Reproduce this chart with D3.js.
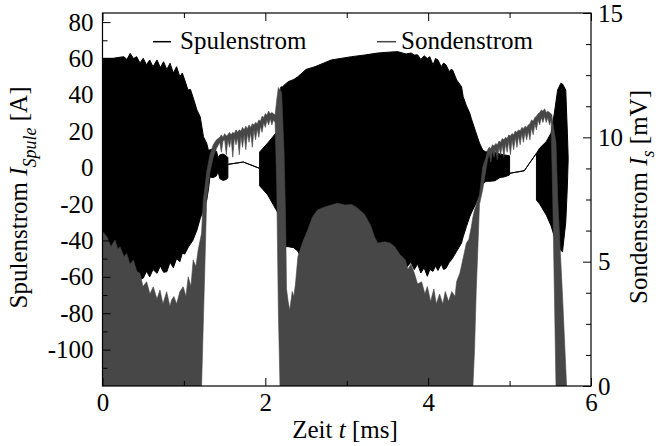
<!DOCTYPE html>
<html><head><meta charset="utf-8">
<script src="https://cdn.jsdelivr.net/npm/d3@7"></script>
<style>body{margin:0;background:#fff}svg{display:block}</style>
</head><body>
<svg id="c" width="658" height="446"></svg>
<script>
// Spulenstrom (coil current, A): envelope of the fast oscillation
const spulT  = [0.00,0.13,0.26,0.30,0.34,0.38,0.42,0.46,0.50,0.54,0.58,0.62,0.67,0.71,0.75,0.79,0.83,0.87,0.91,0.95,0.98,1.01,1.05,1.08,1.11,1.16,1.20,1.24,1.28,1.30,1.32,1.36,1.40,1.42,1.44,1.48,1.52,1.54,1.54,1.73,1.93,1.93,2.03,2.13,2.17,2.19,2.21,2.28,2.35,2.40,2.50,2.61,2.81,3.06,3.22,3.38,3.43,3.59,3.63,3.73,3.79,3.83,3.87,3.91,3.95,3.99,4.02,4.06,4.09,4.12,4.16,4.19,4.22,4.26,4.28,4.30,4.35,4.41,4.43,4.47,4.51,4.53,4.59,4.63,4.67,4.71,4.76,4.82,4.88,4.94,5.00,5.00,5.18,5.33,5.33,5.37,5.45,5.51,5.55,5.59,5.63,5.65,5.69,5.71,5.72];
const spulHi = [60.1,60.1,61.0,59.5,62.8,60.0,61.0,57.5,60.1,56.5,59.2,55.5,59.2,55.0,58.2,54.0,57.4,52.0,55.5,50.0,52.0,48.2,42.7,43.0,39.0,31.7,28.0,17.0,13.4,9.7,9.7,10.5,9.0,5.5,7.0,7.5,6.5,5.5,1.8,3.1,-0.4,8.6,13.6,19.0,20.0,44.3,44.5,47.2,48.5,50.0,54.0,55.5,59.2,61.0,61.9,63.0,63.2,63.7,63.7,62.5,63.0,61.9,62.0,59.5,61.5,60.0,61.0,56.4,60.0,59.2,55.5,57.5,56.4,52.7,54.0,53.7,48.2,44.5,39.0,34.0,30.0,27.0,18.9,13.6,9.7,8.6,9.2,8.4,7.5,7.0,6.5,-3.1,-1.7,7.9,7.9,10.8,14.3,19.0,30.0,42.7,46.4,46.0,42.7,19.0,5.0];
const spulLo = [-62,-62,-62,-62,-62,-62,-62,-61.5,-60.8,-57,-60,-56,-58.1,-54,-57.5,-57.2,-52,-55,-50,-51.7,-47,-47.5,-44,-42,-40,-34.3,-28,-23,-17.8,-12.3,-5.1,-5.5,-4.5,-2.0,-6.0,-7.0,-6.5,-5.5,1.8,3.1,-0.4,-10,-15,-23,-26,-43,-43.4,-43.4,-44,-46,-55,-60,-60,-55,-48,-42,-44,-48.7,-50,-55,-52,-56,-53,-57.9,-55,-59.7,-56,-57,-54,-56.5,-53,-56,-55.3,-52,-51,-49.7,-46,-41.4,-38,-32.4,-27,-24.9,-19.4,-15,-9,-7.5,-7.5,-7.2,-5.5,-5.0,-4.0,-3.1,-1.7,7.9,-17.8,-20,-26,-32,-38,-42.5,-45.5,-46.2,-30,-10,5.0];

// Sondenstrom (probe signal, mV): envelope
const sondT  = [
  0.000,0.055,0.104,0.153,0.190,0.215,0.264,0.297,0.337,0.378,0.423,0.460,0.497,0.542,0.583,0.623,0.669,0.706,0.742,0.788,0.828,0.849,0.877,0.910,0.951,0.991,1.025,1.053,1.086,1.114,1.147,1.175,1.217,1.237,1.258,1.279,1.32,1.36,1.40,
  1.44,1.46,1.48,1.50,1.52,1.54,1.56,1.58,1.60,1.62,1.64,1.66,1.68,1.70,1.72,1.74,1.76,1.78,1.80,1.82,1.84,1.86,1.88,1.90,1.92,1.94,1.96,1.98,2.00,2.02,2.04,2.06,2.08,2.10,2.12,
  2.14,2.16,2.18,2.20,2.23,2.25,2.26,2.28,2.30,2.33,2.35,2.37,2.40,2.46,2.52,2.58,2.64,2.73,2.81,2.89,2.98,3.06,3.13,3.22,3.30,3.34,3.38,3.47,3.53,3.59,3.65,3.72,3.75,3.79,3.83,3.87,3.92,3.96,3.99,4.03,4.07,4.10,4.14,4.18,4.21,4.25,4.29,4.33,4.35,4.39,4.42,4.47,4.50,4.53,4.55,4.57,4.59,4.61,4.63,4.67,4.71,
  4.73,4.75,4.77,4.79,4.81,4.83,4.85,4.87,4.89,4.91,4.93,4.95,4.97,4.99,5.01,5.03,5.05,5.07,5.09,5.11,5.13,5.15,5.17,5.19,5.21,5.23,5.25,5.27,5.29,5.31,5.33,5.35,5.37,5.39,5.41,5.43,5.45,5.47,5.49,5.51,
  5.52,5.53,5.55,5.57,5.59,5.65,5.70];
const sondHi = [
  6.2,6.0,5.6,5.87,5.5,5.6,5.2,5.33,4.9,5.07,4.6,4.53,4.0,4.19,3.7,3.99,3.5,3.86,3.3,3.79,3.2,3.46,3.6,3.3,3.8,3.99,3.6,4.39,4.0,5.07,4.8,5.47,6.14,7.48,8.0,8.6,9.3,9.7,9.9,
  10.0,10.1,10.0,10.15,10.05,10.1,10.2,10.1,10.2,10.15,10.3,10.2,10.3,10.25,10.4,10.3,10.45,10.35,10.5,10.4,10.55,10.5,10.6,10.55,10.7,10.65,10.85,10.8,10.95,10.9,11.05,10.95,11.0,10.95,10.9,
  11.5,12.0,11.9,11.8,9.4,6.55,3.9,3.4,3.05,3.8,3.6,4.1,5.2,5.8,6.27,6.8,7.08,7.2,7.28,7.35,7.28,7.3,7.16,6.9,6.4,6.0,5.75,5.8,5.75,5.6,5.3,5.07,4.7,4.9,4.54,4.1,4.19,3.7,4.0,3.4,3.9,3.3,3.7,3.3,3.8,3.4,3.8,3.6,4.2,4.54,5.0,5.75,5.9,6.4,6.8,7.08,7.3,7.5,7.68,8.8,9.2,
  9.49,9.6,9.55,9.7,9.65,9.75,9.7,9.85,9.8,9.95,9.9,10.0,9.95,10.1,10.05,10.15,10.1,10.25,10.2,10.3,10.25,10.4,10.35,10.45,10.4,10.5,10.55,10.7,10.65,10.8,10.85,10.95,11.0,11.1,11.05,11.15,11.0,11.05,11.0,10.95,
  10.9,10.6,10.2,9.8,7.6,3.63,0];
const sondLo = [
  0,0,0,0,0,0,0,0,0,0, 0,0,0,0,0,0,0,0,0,0, 0,0,0,0,0,0,0,0,0,0, 0,0,0,2.4,4.9,7.48,8.6,9.2,9.55,
  9.8,9.4,9.85,9.9,9.3,9.9,9.6,9.95,9.2,10.0,9.7,10.0,9.3,10.05,9.6,10.1,9.5,10.15,9.8,10.2,9.6,10.3,9.9,10.35,10.0,10.45,10.2,10.6,10.4,10.7,10.5,10.75,10.5,10.7,10.6,
  8.0,3.0, 0,0,0,0,0,0,0,0,0,0, 0,0,0,0,0,0,0,0,0,0, 0,0,0,0,0,0,0,0,0,0, 0,0,0,0,0,0,0,0,0,0, 0,0,0,0,0,0,0,0,0,0, 0,0,0, 1.5,3.8,5.5,7.3,7.9,8.7,
  9.1,9.35,9.0,9.45,9.2,9.5,9.1,9.6,9.3,9.7,9.2,9.75,9.4,9.85,9.3,9.9,9.5,10.0,9.6,10.05,9.7,10.15,9.8,10.2,9.9,10.25,9.9,10.4,10.1,10.55,10.3,10.7,10.5,10.8,10.6,10.85,10.6,10.8,10.5,10.7,
  9.0,7.6,3.8,0,0,0,0];

const xTicks = [0,2,4,6];
const xMinor = [1,3,5];
const yLeftTicks = [-100,-80,-60,-40,-20,0,20,40,60,80];
const yLeftMinor = [-110,-90,-70,-50,-30,-10,10,30,50,70];
const yRightTicks = [0,5,10,15];
const yRightMinor = [1.25,2.5,3.75,6.25,7.5,8.75,11.25,12.5,13.75];
const seriesNames = ["Spulenstrom","Sondenstrom"];
const seriesColors = ["#000000","#474747"];

const FONT = "'Liberation Serif','Times New Roman',Times,serif";
const L = 102.5, R = 591, T = 13, B = 386;
const svg = d3.select('#c');
const x = d3.scaleLinear().domain([0,6]).range([L,R]);
const yL = d3.scaleLinear().domain([-120,85]).range([B,T]);
const yR = d3.scaleLinear().domain([0,15]).range([B,T]);

svg.append('defs').append('clipPath').attr('id','clip')
  .append('rect').attr('x',L).attr('y',T).attr('width',R-L).attr('height',B-T);

const plot = svg.append('g').attr('clip-path','url(#clip)');
const spul = spulT.map((t,i)=>({t,hi:spulHi[i],lo:spulLo[i]}));
const sond = sondT.map((t,i)=>({t,hi:sondHi[i],lo:sondLo[i]}));
plot.append('path').datum(spul)
  .attr('d', d3.area().x(d=>x(d.t)).y0(d=>yL(d.lo)).y1(d=>yL(d.hi)))
  .attr('fill',seriesColors[0]).attr('stroke',seriesColors[0]).attr('stroke-width',1).attr('stroke-linejoin','round');
plot.append('path').datum(sond)
  .attr('d', d3.area().x(d=>x(d.t)).y0(d=>yR(d.lo)).y1(d=>yR(d.hi)))
  .attr('fill',seriesColors[1]).attr('stroke',seriesColors[1]).attr('stroke-width',0.6).attr('stroke-linejoin','round');

const ax = svg.append('g').style('font-family',FONT).style('font-size','25px');
function style(g){
  g.select('.domain').remove();
  g.selectAll('line').attr('stroke','#000').attr('stroke-width',1);
  g.selectAll('text').attr('fill','#000').style('font-family',FONT).style('font-size','25px');
}
const fmt = d => String(d);
ax.append('g').attr('transform',`translate(0,${B})`)
  .call(d3.axisBottom(x).tickValues(xTicks).tickSize(-8).tickPadding(7).tickFormat(fmt)).call(style);
ax.append('g').attr('transform',`translate(0,${B})`)
  .call(d3.axisBottom(x).tickValues(xMinor).tickSize(-5).tickFormat('')).call(style);
ax.append('g').attr('transform',`translate(0,${T})`)
  .call(d3.axisTop(x).tickValues(xTicks).tickSize(-8).tickFormat('')).call(style);
ax.append('g').attr('transform',`translate(0,${T})`)
  .call(d3.axisTop(x).tickValues(xMinor).tickSize(-5).tickFormat('')).call(style);
ax.append('g').attr('transform',`translate(${L},0)`)
  .call(d3.axisLeft(yL).tickValues(yLeftTicks).tickSize(-8).tickPadding(9).tickFormat(fmt)).call(style);
ax.append('g').attr('transform',`translate(${L},0)`)
  .call(d3.axisLeft(yL).tickValues(yLeftMinor).tickSize(-5).tickFormat('')).call(style);
ax.append('g').attr('transform',`translate(${R},0)`)
  .call(d3.axisRight(yR).tickValues(yRightTicks).tickSize(-8).tickPadding(7).tickFormat(fmt)).call(style);
ax.append('g').attr('transform',`translate(${R},0)`)
  .call(d3.axisRight(yR).tickValues(yRightMinor).tickSize(-5).tickFormat('')).call(style);

svg.append('rect').attr('x',L).attr('y',T).attr('width',R-L).attr('height',B-T)
  .attr('fill','none').attr('stroke','#000').attr('stroke-width',1.2);

// legend
const leg = [{x1:153,x2:171,tx:180},{x1:377,x2:396,tx:401}];
leg.forEach((p,i)=>{
  svg.append('line').attr('x1',p.x1).attr('x2',p.x2).attr('y1',41.7).attr('y2',41.7)
    .attr('stroke',seriesColors[i]).attr('stroke-width',1.5);
  svg.append('text').attr('x',p.tx).attr('y',48.5).style('font-family',FONT).style('font-size','25px')
    .attr('fill','#000').text(seriesNames[i]);
});

// axis titles
const xt = svg.append('text').attr('x',345).attr('y',438).attr('text-anchor','middle')
  .style('font-family',FONT).style('font-size','25px');
xt.append('tspan').text('Zeit ');
xt.append('tspan').style('font-style','italic').text('t');
xt.append('tspan').text(' [ms]');

const lt = svg.append('text').attr('transform','translate(27,197.5) rotate(-90)').attr('text-anchor','middle')
  .style('font-family',FONT).style('font-size','25px');
lt.append('tspan').text('Spulenstrom ');
lt.append('tspan').style('font-style','italic').text('I');
lt.append('tspan').style('font-style','italic').style('font-size','18px').attr('dy',9).text('Spule');
lt.append('tspan').attr('dy',-9).text(' [A]');

const rt = svg.append('text').attr('transform','translate(647,197) rotate(-90)').attr('text-anchor','middle')
  .style('font-family',FONT).style('font-size','25px');
rt.append('tspan').text('Sondenstrom ');
rt.append('tspan').style('font-style','italic').text('I');
rt.append('tspan').style('font-style','italic').style('font-size','18px').attr('dy',7).text('s');
rt.append('tspan').attr('dy',-7).text(' [mV]');
</script>
</body></html>
